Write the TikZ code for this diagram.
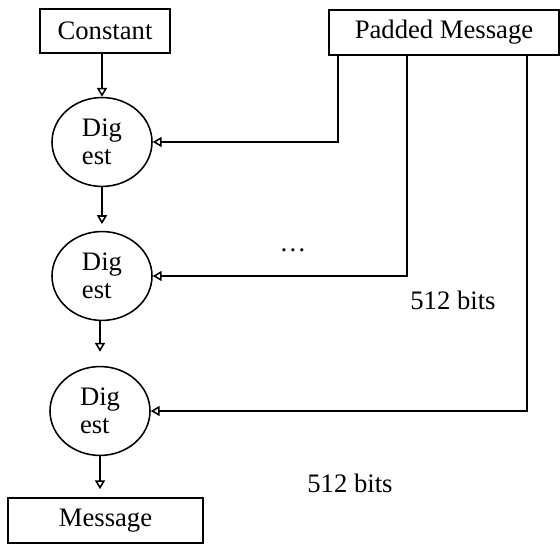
\documentclass[tikz,border=0pt]{standalone}
\usepackage{fontspec}
\setmainfont{Liberation Serif}
\usepackage{tikz}
\usetikzlibrary{positioning}
\usetikzlibrary{arrows.meta}
\usetikzlibrary{shapes.geometric}

\begin{document}
\begin{tikzpicture}[x=0.45pt,y=-0.45pt,line width=0.7pt]
        \tikzset{edge/.style = {-{Triangle[open,length=4pt,width=4.5pt]}}}
        \tikzset{box/.style = {draw,rectangle,inner sep=0pt,font=\fontsize{12}{14}\selectfont}}
        \tikzset{digest/.style = {draw,ellipse,minimum width=45pt,minimum height=40pt,inner sep=0pt,align=left,font=\fontsize{12}{12.6}\selectfont}}

        \useasboundingbox (0,0) rectangle (560,544);

        % inputs and output
        \node[box,minimum width=58.5pt,minimum height=19.8pt] (const) at (105,31) {Constant};
        \node[box,minimum width=103.5pt,minimum height=20.25pt] (padded) at (444,32.5) {Padded Message};
        \node[box,minimum width=87.75pt,minimum height=20.25pt] (msg) at (105.5,520.5) {Message};

        % digest rounds
        \node[digest] (dig1) at (102,142) {Dig\\est};
        \node[digest] (dig2) at (102,276) {Dig\\est};
        \node[digest] (dig3) at (100,411) {Dig\\est};

        % chain
        \draw[edge] (dig1 |- const.south) -- (dig1.north);
        \draw[edge,shorten >=3pt] (dig1) -- (dig2);
        \draw[edge,shorten >=6.3pt] (dig2.south -| dig3) -- (dig3.north);
        \draw[edge,shorten >=3.6pt] (dig3) -- (dig3 |- msg.north);

        % message blocks
        \draw[edge] ([xshift=4.5pt]padded.south west) |- (dig1.east);
        \draw[edge] ([xshift=35.55pt]padded.south west) |- (dig2.east);
        \draw[edge] ([xshift=89.55pt]padded.south west) |- (dig3.east);

        % labels
        \node[font=\fontsize{12}{14}\selectfont] (dots) at (293,250) {\dots};
        \node[font=\fontsize{12}{14}\selectfont] (bitsa) at (453,300) {512 bits};
        \node[font=\fontsize{12}{14}\selectfont] (bitsb) at (350,483) {512 bits};
\end{tikzpicture}
\end{document}
